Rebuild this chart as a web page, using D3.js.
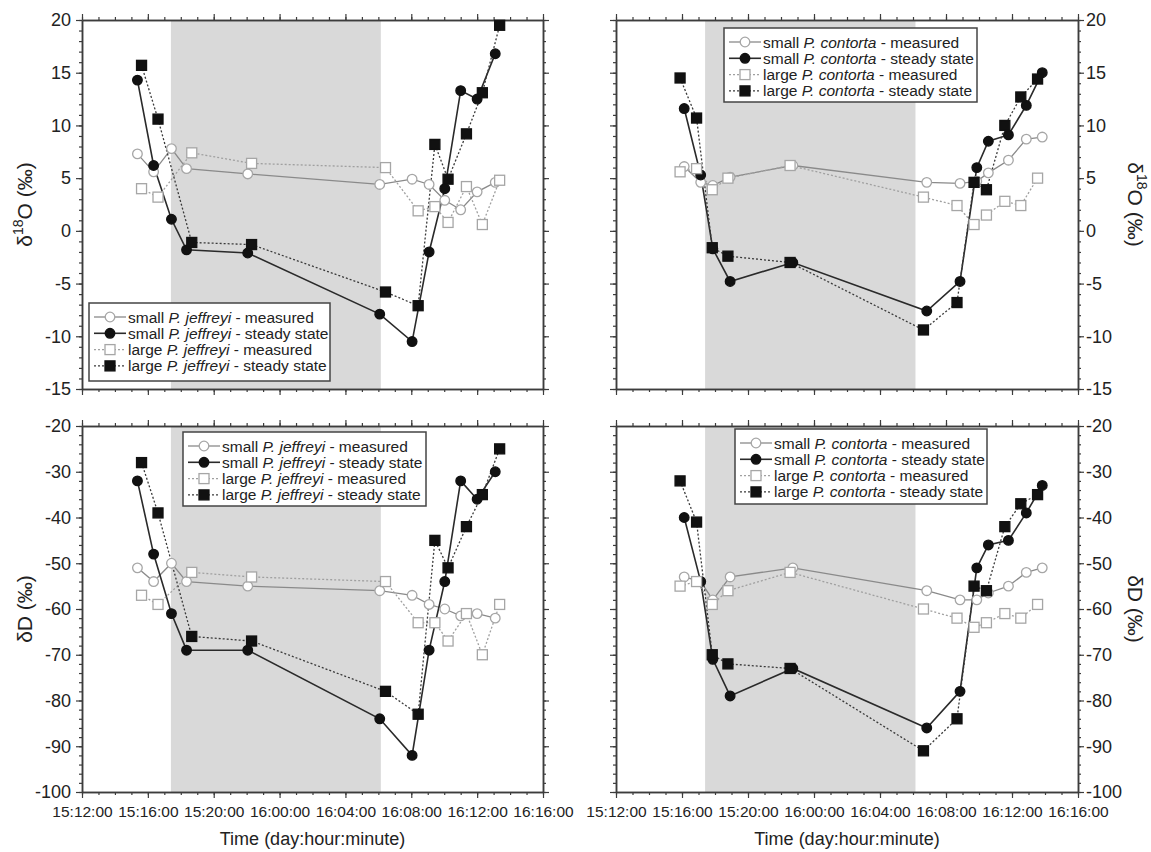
<!DOCTYPE html>
<html>
<head>
<meta charset="utf-8">
<script src="https://cdn.jsdelivr.net/npm/d3@7"></script>
<style>
  body { margin: 0; background: #fff; }
  svg { font-family: Arial, "Liberation Sans", Helvetica, sans-serif; }
</style>
</head>
<body>
<svg id="chart" width="1151" height="852"></svg>
<script>
// sampling times, day:hour:minute
const jeffreyiSmallTime = ["15:15:22", "15:16:21", "15:17:26", "15:18:21", "15:22:04", "16:06:05",
  "16:08:03", "16:09:05", "16:10:02", "16:11:00", "16:12:00", "16:13:06"];
const jeffreyiLargeTime = ["15:15:37", "15:16:37", "15:18:40", "15:22:18", "16:06:26", "16:08:25",
  "16:09:26", "16:10:14", "16:11:21", "16:12:19", "16:13:22"];
const contortaSmallTime = ["15:16:08", "15:17:08", "15:17:52", "15:18:55", "15:22:43", "16:06:50",
  "16:08:51", "16:09:52", "16:10:34", "16:11:47", "16:12:52", "16:13:50"];
const contortaLargeTime = ["15:15:53", "15:16:53", "15:17:50", "15:18:47", "15:22:33", "16:06:38",
  "16:08:40", "16:09:42", "16:10:27", "16:11:34", "16:12:32", "16:13:33"];

// dark period (grey band)
const nightSpan = ["15:17:24", "16:06:09"];

// x tick labels (every 4 hours)
const timeTicks = ["15:12:00", "15:16:00", "15:20:00", "16:00:00", "16:04:00", "16:08:00", "16:12:00", "16:16:00"];

// P. jeffreyi, d18O (permil)
const jeffreyiO18SmallMeasured = [7.3, 5.6, 7.8, 5.9, 5.4, 4.4, 4.9, 4.4, 2.9, 2.0, 3.7, 4.6];
const jeffreyiO18SmallSteady = [14.3, 6.2, 1.1, -1.8, -2.1, -7.9, -10.5, -2.0, 4.0, 13.3, 12.5, 16.8];
const jeffreyiO18LargeMeasured = [4.0, 3.2, 7.4, 6.4, 6.0, 1.9, 2.3, 0.8, 4.2, 0.6, 4.8];
const jeffreyiO18LargeSteady = [15.7, 10.6, -1.1, -1.3, -5.8, -7.1, 8.2, 4.9, 9.2, 13.1, 19.5];

// P. contorta, d18O (permil)
const contortaO18SmallMeasured = [6.1, 4.6, 4.3, 5.1, 6.2, 4.6, 4.5, 4.7, 5.5, 6.7, 8.7, 8.9];
const contortaO18SmallSteady = [11.6, 5.3, -1.7, -4.8, -3.0, -7.6, -4.8, 6.0, 8.5, 9.1, 11.9, 15.0];
const contortaO18LargeMeasured = [5.6, 5.9, 3.9, 5.0, 6.2, 3.2, 2.4, 0.6, 1.5, 2.8, 2.4, 5.0];
const contortaO18LargeSteady = [14.5, 10.7, -1.6, -2.4, -3.0, -9.4, -6.8, 4.6, 3.9, 10.0, 12.7, 14.4];

// P. jeffreyi, dD (permil)
const jeffreyiDSmallMeasured = [-51, -54, -50, -54, -55, -56, -57, -59, -60, -61.5, -61, -62];
const jeffreyiDSmallSteady = [-32, -48, -61, -69, -69, -84, -92, -69, -54, -32, -36, -30];
const jeffreyiDLargeMeasured = [-57, -59, -52, -53, -54, -63, -63, -67, -61, -70, -59];
const jeffreyiDLargeSteady = [-28, -39, -66, -67, -78, -83, -45, -51, -42, -35, -25];

// P. contorta, dD (permil)
const contortaDSmallMeasured = [-53, -54, -58, -53, -51, -56, -58, -58, -56.5, -55, -52, -51];
const contortaDSmallSteady = [-40, -54, -71, -79, -73, -86, -78, -51, -46, -45, -39, -33];
const contortaDLargeMeasured = [-55, -54, -59, -56, -52, -60, -62, -64, -63, -61, -62, -59];
const contortaDLargeSteady = [-32, -41, -70, -72, -73, -91, -84, -55, -56, -42, -37, -35];

// hours after day 15, 12:00
function toHours(s) {
  const p = s.split(":").map(Number);
  return (p[0] - 15) * 24 + (p[1] - 12) + p[2] / 60;
}

const svg = d3.select("#chart");

const seriesStyle = {
  smallMeasured: { shape: "circle", fill: "#fff", mstroke: "#a6a6a6", line: "#8a8a8a", dash: null, lw: 1.3 },
  smallSteady: { shape: "circle", fill: "#111", mstroke: "#111", line: "#2a2a2a", dash: null, lw: 1.6 },
  largeMeasured: { shape: "square", fill: "#fff", mstroke: "#a6a6a6", line: "#a0a0a0", dash: "2,2", lw: 1.3 },
  largeSteady: { shape: "square", fill: "#111", mstroke: "#111", line: "#3a3a3a", dash: "2,2", lw: 1.3 }
};

// plain hyphen minus, as in the original figure
const fmtY = function(d) { return String(d); };

function drawMarker(g, shape, cx, cy, st) {
  if (shape === "circle") {
    g.append("circle").attr("cx", cx).attr("cy", cy).attr("r", 4.8)
      .attr("fill", st.fill).attr("stroke", st.mstroke).attr("stroke-width", 1.3);
  } else {
    g.append("rect").attr("x", cx - 5).attr("y", cy - 5).attr("width", 10).attr("height", 10)
      .attr("fill", st.fill).attr("stroke", st.mstroke).attr("stroke-width", 1.3);
  }
}

function drawPanel(p) {
  const x = d3.scaleLinear().domain([toHours(timeTicks[0]), toHours(timeTicks[timeTicks.length - 1])]).range([p.x0, p.x1]);
  const y = d3.scaleLinear().domain(p.yDomain).range([p.y1, p.y0]);
  const g = svg.append("g");

  // night shading
  g.append("rect")
    .attr("x", x(toHours(nightSpan[0])))
    .attr("y", p.y0)
    .attr("width", x(toHours(nightSpan[1])) - x(toHours(nightSpan[0])))
    .attr("height", p.y1 - p.y0)
    .attr("fill", "#d9d9d9");

  const majorX = timeTicks.map(toHours);
  const minorX = d3.range(majorX[0], majorX[majorX.length - 1] + 0.01, 1);
  const majorY = d3.range(p.yDomain[0], p.yDomain[1] + 0.01, p.yMajor);
  const minorY = d3.range(p.yDomain[0], p.yDomain[1] + 0.01, p.yMinor);
  const fmtX = function(h) { return timeTicks[majorX.indexOf(h)]; };

  function addAxis(axisFn, scale, pos, values, size, labels, fmt, pad) {
    const a = axisFn(scale).tickValues(values).tickSize(size).tickSizeOuter(0)
      .tickPadding(pad || 3).tickFormat(labels ? fmt : "");
    const ag = g.append("g").attr("transform", pos).call(a);
    ag.select(".domain").attr("stroke", "#3c3c3c").attr("stroke-width", 1.5);
    ag.selectAll(".tick line").attr("stroke", "#3c3c3c").attr("stroke-width", 1.2);
    ag.selectAll(".tick text").attr("fill", "#222");
    return ag;
  }

  // minor ticks
  addAxis(d3.axisBottom, x, `translate(0,${p.y1})`, minorX, 3, false);
  addAxis(d3.axisTop, x, `translate(0,${p.y0})`, minorX, 3, false);
  addAxis(d3.axisLeft, y, `translate(${p.x0},0)`, minorY, 3, false);
  addAxis(d3.axisRight, y, `translate(${p.x1},0)`, minorY, 3, false);
  // major ticks
  const bx = addAxis(d3.axisBottom, x, `translate(0,${p.y1})`, majorX, 6, p.xLabels, fmtX, 8);
  bx.selectAll("text").attr("font-size", 15.5);
  addAxis(d3.axisTop, x, `translate(0,${p.y0})`, majorX, 6, false);
  const ly = addAxis(d3.axisLeft, y, `translate(${p.x0},0)`, majorY, 6, p.side === "left", fmtY, 5);
  ly.selectAll("text").attr("font-size", 18);
  const ry = addAxis(d3.axisRight, y, `translate(${p.x1},0)`, majorY, 6, p.side === "right", fmtY, 2);
  ry.selectAll("text").attr("font-size", 18);

  // series: lines first, then markers
  const line = d3.line().x(d => x(d[0])).y(d => y(d[1]));
  const series = p.series.map(s => ({
    st: seriesStyle[s.key],
    pts: s.time.map((t, i) => [toHours(t), s.values[i]])
  }));
  series.forEach(s => {
    g.append("path").datum(s.pts).attr("d", line)
      .attr("fill", "none").attr("stroke", s.st.line).attr("stroke-width", s.st.lw)
      .attr("stroke-dasharray", s.st.dash);
  });
  series.forEach(s => {
    s.pts.forEach(d => drawMarker(g, s.st.shape, x(d[0]), y(d[1]), s.st));
  });

  // legend
  const L = p.legend;
  const lg = g.append("g");
  lg.append("rect").attr("x", L.x).attr("y", L.y).attr("width", L.w).attr("height", L.h)
    .attr("fill", "#fff").attr("stroke", "#444").attr("stroke-width", 1.5);
  const labels = [["small ", " - measured"], ["small ", " - steady state"],
    ["large ", " - measured"], ["large ", " - steady state"]];
  p.series.forEach((s, i) => {
    const st = seriesStyle[s.key];
    const cy = L.y + 14 + i * 16.3;
    lg.append("line").attr("x1", L.x + 5).attr("x2", L.x + 37).attr("y1", cy).attr("y2", cy)
      .attr("stroke", st.line).attr("stroke-width", st.lw).attr("stroke-dasharray", st.dash);
    drawMarker(lg, st.shape, L.x + 21, cy, st);
    const t = lg.append("text").attr("x", L.x + 39).attr("y", cy + 5.5)
      .attr("font-size", 15.5).attr("fill", "#222");
    t.append("tspan").text(labels[i][0]);
    t.append("tspan").attr("font-style", "italic").text(p.species);
    t.append("tspan").text(labels[i][1]);
  });

  // y title
  const tx = p.side === "left" ? 32 : 1128;
  const ty = (p.y0 + p.y1) / 2;
  const title = g.append("text")
    .attr("transform", `translate(${tx},${ty}) rotate(${p.side === "left" ? -90 : 90})`)
    .attr("text-anchor", "middle").attr("font-size", 21).attr("fill", "#222");
  if (p.isotope === "O") {
    title.append("tspan").text("δ");
    title.append("tspan").attr("font-size", 14).attr("dy", -9).text("18");
    title.append("tspan").attr("dy", 9).text("O (‰)");
  } else {
    title.append("tspan").text("δD (‰)");
  }

  if (p.xLabels) {
    g.append("text").attr("x", (p.x0 + p.x1) / 2).attr("y", 845)
      .attr("text-anchor", "middle").attr("font-size", 18).attr("fill", "#222")
      .text("Time (day:hour:minute)");
  }
}

const panels = [
  {
    x0: 82, x1: 543, y0: 20, y1: 389, yDomain: [-15, 20], yMajor: 5, yMinor: 1,
    side: "left", xLabels: false, isotope: "O", species: "P. jeffreyi",
    legend: { x: 89, y: 303, w: 241, h: 78 },
    series: [
      { key: "smallMeasured", time: jeffreyiSmallTime, values: jeffreyiO18SmallMeasured },
      { key: "smallSteady", time: jeffreyiSmallTime, values: jeffreyiO18SmallSteady },
      { key: "largeMeasured", time: jeffreyiLargeTime, values: jeffreyiO18LargeMeasured },
      { key: "largeSteady", time: jeffreyiLargeTime, values: jeffreyiO18LargeSteady }
    ]
  },
  {
    x0: 616, x1: 1078, y0: 20, y1: 389, yDomain: [-15, 20], yMajor: 5, yMinor: 1,
    side: "right", xLabels: false, isotope: "O", species: "P. contorta",
    legend: { x: 724, y: 28, w: 253, h: 74 },
    series: [
      { key: "smallMeasured", time: contortaSmallTime, values: contortaO18SmallMeasured },
      { key: "smallSteady", time: contortaSmallTime, values: contortaO18SmallSteady },
      { key: "largeMeasured", time: contortaLargeTime, values: contortaO18LargeMeasured },
      { key: "largeSteady", time: contortaLargeTime, values: contortaO18LargeSteady }
    ]
  },
  {
    x0: 82, x1: 543, y0: 426, y1: 792, yDomain: [-100, -20], yMajor: 10, yMinor: 2,
    side: "left", xLabels: true, isotope: "D", species: "P. jeffreyi",
    legend: { x: 183, y: 432, w: 243, h: 74 },
    series: [
      { key: "smallMeasured", time: jeffreyiSmallTime, values: jeffreyiDSmallMeasured },
      { key: "smallSteady", time: jeffreyiSmallTime, values: jeffreyiDSmallSteady },
      { key: "largeMeasured", time: jeffreyiLargeTime, values: jeffreyiDLargeMeasured },
      { key: "largeSteady", time: jeffreyiLargeTime, values: jeffreyiDLargeSteady }
    ]
  },
  {
    x0: 616, x1: 1078, y0: 426, y1: 792, yDomain: [-100, -20], yMajor: 10, yMinor: 2,
    side: "right", xLabels: true, isotope: "D", species: "P. contorta",
    legend: { x: 735, y: 429, w: 252, h: 75 },
    series: [
      { key: "smallMeasured", time: contortaSmallTime, values: contortaDSmallMeasured },
      { key: "smallSteady", time: contortaSmallTime, values: contortaDSmallSteady },
      { key: "largeMeasured", time: contortaLargeTime, values: contortaDLargeMeasured },
      { key: "largeSteady", time: contortaLargeTime, values: contortaDLargeSteady }
    ]
  }
];

panels.forEach(drawPanel);
</script>
</body>
</html>
